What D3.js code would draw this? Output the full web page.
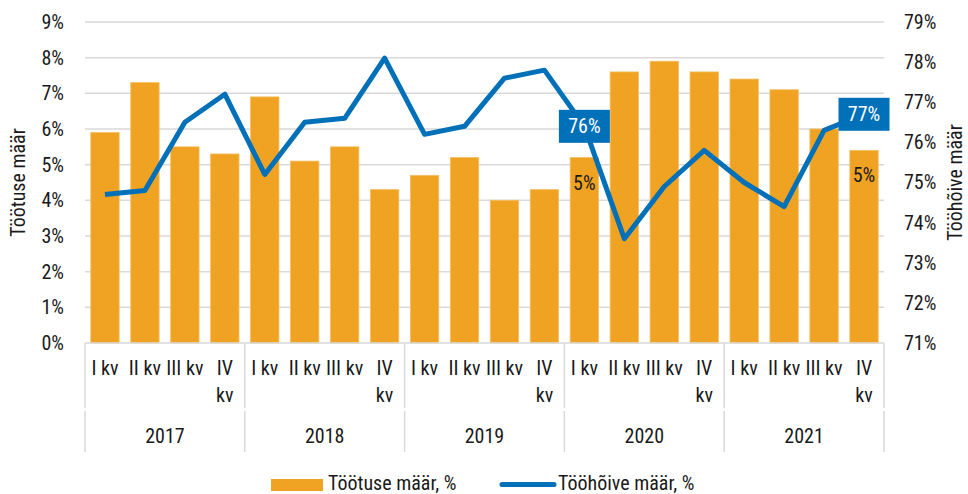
<!DOCTYPE html>
<html>
<head>
<meta charset="utf-8">
<script src="https://cdn.jsdelivr.net/npm/d3@7"></script>
<style>
  body { margin: 0; background: #fff; }
  text { font-family: "Roboto Condensed", Roboto, sans-serif; font-size: 20px; fill: #1a1a1a; }
</style>
</head>
<body>
<div id="chart"></div>
<script>
// chart data
const years = ['2017', '2018', '2019', '2020', '2021'];
const quarters = ['I kv', 'II kv', 'III kv', 'IV kv'];
const quarterLines = [['I kv'], ['II kv'], ['III kv'], ['IV', 'kv']];
const unemployment = [5.9, 7.3, 5.5, 5.3, 6.9, 5.1, 5.5, 4.3, 4.7, 5.2, 4.0, 4.3, 5.2, 7.6, 7.9, 7.6, 7.4, 7.1, 6.0, 5.4];
const employment = [74.7, 74.8, 76.5, 77.2, 75.2, 76.5, 76.6, 78.1, 76.2, 76.4, 77.6, 77.8, 76.4, 73.6, 74.9, 75.8, 75.0, 74.4, 76.3, 76.7];
const leftTicks = [0, 1, 2, 3, 4, 5, 6, 7, 8, 9];
const rightTicks = [71, 72, 73, 74, 75, 76, 77, 78, 79];
const barLabelIdx = [12, 19];
const lineLabelIdx = [12, 19];
const yLabelLeft = 'Töötuse määr';
const yLabelRight = 'Tööhõive määr';
const legendBar = 'Töötuse määr, %';
const legendLine = 'Tööhõive määr, %';

const categories = [];
years.forEach(y => quarters.forEach(q => categories.push(y + ' ' + q)));

// chart static params
const width = 968, height = 494;
const margin = {top: 22, right: 84, bottom: 151, left: 85};
const plotW = width - margin.left - margin.right;
const plotH = height - margin.top - margin.bottom;
const barColor = '#F0A323';
const lineColor = '#0070B8';
const gridColor = '#D9D9D9';

const svg = d3.select('#chart')
  .append('svg')
    .attr('width', width)
    .attr('height', height)
  .append('g')
    .attr('transform', `translate(${margin.left},${margin.top})`);

const x = d3.scaleBand().domain(categories).range([0, plotW]).padding(0);
const yL = d3.scaleLinear().domain([0, 9]).range([plotH, 0]);
const yR = d3.scaleLinear().domain([71, 79]).range([plotH, 0]);
const bw = x.bandwidth();
const barW = bw * 0.71;

// gridlines
svg.selectAll('.grid')
  .data(leftTicks.slice(1))
  .enter().append('line')
    .attr('x1', 0).attr('x2', plotW)
    .attr('y1', d => yL(d)).attr('y2', d => yL(d))
    .attr('stroke', gridColor).attr('stroke-width', 1.5);

// left axis
const axL = svg.append('g').call(d3.axisLeft(yL).tickValues(leftTicks).tickFormat(d => d + '%').tickSize(0).tickPadding(21));
axL.select('.domain').remove();
axL.selectAll('text').attr('font-size', null).attr('font-family', null);

// right axis
const axR = svg.append('g')
  .attr('transform', `translate(${plotW},0)`)
  .call(d3.axisRight(yR).tickValues(rightTicks).tickFormat(d => d + '%').tickSize(0).tickPadding(20));
axR.select('.domain').remove();
axR.selectAll('text').attr('font-size', null).attr('font-family', null);

// bars
svg.selectAll('.bar')
  .data(unemployment)
  .enter().append('rect')
    .attr('x', (d, i) => x(categories[i]) + (bw - barW) / 2)
    .attr('y', d => yL(d))
    .attr('width', barW)
    .attr('height', d => plotH - yL(d))
    .attr('fill', barColor)
    .attr('stroke', '#F5BD5E').attr('stroke-width', 0.8);

// bar labels
svg.selectAll('.barLabel')
  .data(barLabelIdx)
  .enter().append('text')
    .attr('x', i => x(categories[i]) + bw / 2)
    .attr('y', i => yL(unemployment[i]) + 25)
    .attr('dy', '0.35em')
    .attr('text-anchor', 'middle')
    .text(i => Math.round(unemployment[i]) + '%');

// x axis line and separators
svg.append('line')
  .attr('x1', 0).attr('x2', plotW).attr('y1', plotH).attr('y2', plotH)
  .attr('stroke', gridColor).attr('stroke-width', 1.5);
const sepX = d3.range(years.length + 1).map(k => k * quarters.length * bw);
sepX.forEach(sx => {
  svg.append('line').attr('x1', sx).attr('x2', sx).attr('y1', plotH).attr('y2', plotH + 65)
    .attr('stroke', gridColor).attr('stroke-width', 1.5);
  svg.append('line').attr('x1', sx).attr('x2', sx).attr('y1', plotH + 68).attr('y2', plotH + 109)
    .attr('stroke', gridColor).attr('stroke-width', 1.5);
});

// quarter labels
categories.forEach((c, i) => {
  const lines = quarterLines[i % quarters.length];
  const t = svg.append('text')
    .attr('text-anchor', 'middle')
    .attr('transform', `translate(${x(c) + bw / 2},${plotH + 32})`);
  lines.forEach((l, k) => t.append('tspan').attr('x', 0).attr('y', k * 27).text(l));
});

// year labels
years.forEach((yr, k) => {
  svg.append('text')
    .attr('text-anchor', 'middle')
    .attr('x', (sepX[k] + sepX[k + 1]) / 2)
    .attr('y', plotH + 100)
    .text(yr);
});

// employment line
const line = d3.line()
  .x((d, i) => x(categories[i]) + bw / 2)
  .y(d => yR(d));
svg.append('path')
  .datum(employment)
  .attr('d', line)
  .attr('fill', 'none')
  .attr('stroke', lineColor)
  .attr('stroke-width', 5)
  .attr('stroke-linejoin', 'round');

// line labels
lineLabelIdx.forEach(i => {
  const cx = x(categories[i]) + bw / 2, cy = yR(employment[i]);
  svg.append('rect')
    .attr('x', cx - 25.5).attr('y', cy - 16.5)
    .attr('width', 51).attr('height', 33)
    .attr('fill', lineColor);
  svg.append('text')
    .attr('x', cx).attr('y', cy).attr('dy', '0.35em')
    .attr('text-anchor', 'middle')
    .style('fill', '#fff')
    .text(Math.round(employment[i]) + '%');
});

// add label left
svg.append('text')
  .attr('text-anchor', 'middle')
  .attr('transform', `translate(${18 - margin.left},${plotH / 2}) rotate(-90)`)
  .attr('dy', '0.35em')
  .text(yLabelLeft);

// add label right
svg.append('text')
  .attr('text-anchor', 'middle')
  .attr('transform', `translate(${955 - margin.left},${plotH / 2}) rotate(-90)`)
  .attr('dy', '0.35em')
  .text(yLabelRight);

// legend
const lg = svg.append('g').attr('transform', `translate(${271 - margin.left},${479 - margin.top})`);
lg.append('rect').attr('x', 0).attr('y', 0).attr('width', 52).attr('height', 12).attr('fill', barColor);
lg.append('text').attr('x', 57).attr('y', 11).text(legendBar);
lg.append('line').attr('x1', 231).attr('x2', 283).attr('y1', 5.5).attr('y2', 5.5)
  .attr('stroke', lineColor).attr('stroke-width', 5).attr('stroke-linecap', 'round');
lg.append('text').attr('x', 287).attr('y', 11).text(legendLine);
</script>
</body>
</html>
